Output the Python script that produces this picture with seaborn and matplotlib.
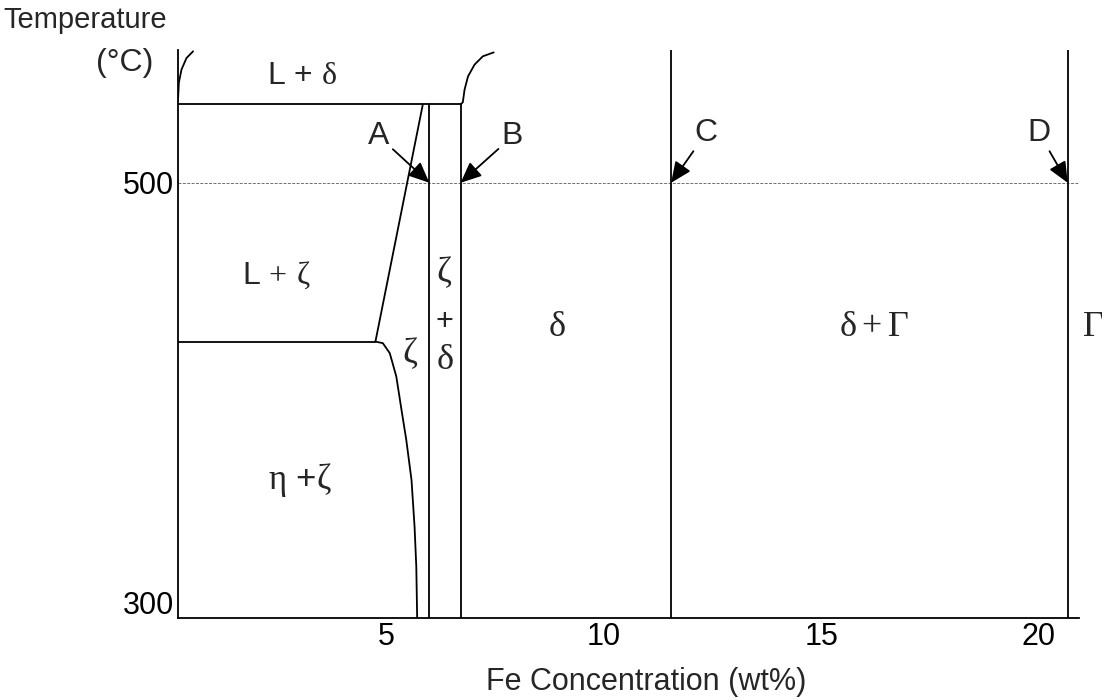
import numpy as np
import pandas as pd
import matplotlib
matplotlib.use("Agg")
import matplotlib.pyplot as plt
import seaborn as sns
from matplotlib.transforms import ScaledTranslation

# ---------------- data (Fe concentration wt%, temperature °C) ----------------
x_ticks = [5, 10, 15, 20]
x_tick_labels = ["5", "10", "15", "20"]
y_ticks = [300, 500]
y_tick_labels = ["300", "500"]

T_peritectic = 536
T_zeta_line = 427
T_ref = 500
T_top = 561

liq_left_x = [0.20, 0.22, 0.28, 0.395, 0.547]
liq_left_t = [538, 546, 552, 557.3, 560.4]

liq_right_x = [6.70, 6.75, 6.79, 6.87, 7.02, 7.21, 7.46]
liq_right_t = [536, 537, 542.8, 548.9, 554.3, 558.1, 559.9]

zeta_liq_x = [5.83, 4.74]
zeta_liq_t = [536, 427]

zeta_solvus_x = [4.74, 4.91, 5.07, 5.22, 5.34, 5.45, 5.57, 5.64, 5.68, 5.70]
zeta_solvus_t = [427.0, 426.3, 421.7, 411.0, 395.6, 381.8, 363.4, 342.0, 323.6, 300]

A_x, B_x, C_x, D_x = 5.98, 6.70, 11.54, 20.66
x_min, x_max = 0.20, 20.92

arrow_labels = ["A", "B", "C", "D"]
arrow_tips = [A_x, B_x, C_x, D_x]
arrow_text_x = [4.82, 7.89, 12.35, 20.00]
arrow_text_t = [521.3, 521.3, 522.9, 522.9]

# ---------------- build long-form table of boundary segments ----------------
segments = {
    "liq_left": (liq_left_x, liq_left_t),
    "liq_right": (liq_right_x, liq_right_t),
    "peritectic": ([x_min, B_x], [T_peritectic, T_peritectic]),
    "zeta_horiz": ([x_min, zeta_liq_x[-1]], [T_zeta_line, T_zeta_line]),
    "zeta_liq": (zeta_liq_x, zeta_liq_t),
    "zeta_solvus": (zeta_solvus_x, zeta_solvus_t),
    "A": ([A_x, A_x], [300, T_peritectic]),
    "B": ([B_x, B_x], [300, T_peritectic]),
    "C": ([C_x, C_x], [300, T_top]),
    "D": ([D_x, D_x], [300, T_top]),
}
rows = []
for name, (xs, ts) in segments.items():
    for i, (xv, tv) in enumerate(zip(xs, ts)):
        rows.append({"seg": name, "order": i, "x": xv, "T": tv})
df = pd.DataFrame(rows)
ref_df = pd.DataFrame({"x": [x_min, x_max], "T": [T_ref, T_ref]})

# ---------------- style ----------------
sns.set_style("white")
plt.rcParams["font.family"] = ["Liberation Sans", "DejaVu Sans"]
plt.rcParams["mathtext.fontset"] = "custom"
plt.rcParams["mathtext.rm"] = "Liberation Serif"
plt.rcParams["mathtext.it"] = "Liberation Serif"
plt.rcParams["mathtext.bf"] = "Liberation Serif:bold"

fig = plt.figure(figsize=(11.02, 7.0), dpi=100)
ax = fig.add_axes([178 / 1102, 1 - 618 / 700, (1079 - 178) / 1102, (618 - 50) / 700])

sns.lineplot(data=ref_df, x="x", y="T", ax=ax, color="#707070", lw=0.7,
             linestyle=(0, (3, 1.5)), estimator=None, sort=False)
sns.lineplot(data=df, x="x", y="T", units="seg", estimator=None, sort=False,
             color="black", lw=1.3, ax=ax)

ax.set_xlim(x_min, x_max)
ax.set_ylim(300, T_top)
ax.set_xticks(x_ticks)
ax.set_xticklabels(x_tick_labels)
ax.set_yticks(y_ticks)
ax.set_yticklabels(y_tick_labels)
ax.tick_params(axis="both", length=0, labelsize=22, colors="black")
ax.tick_params(axis="x", pad=3)
ax.tick_params(axis="y", pad=3)
ax.set_xlabel("")
ax.set_ylabel("")
for s in ["top", "right"]:
    ax.spines[s].set_visible(False)
for s in ["left", "bottom"]:
    ax.spines[s].set_color("black")
    ax.spines[s].set_linewidth(1.3)

# the "300" label sits a little above the bottom in the reference
lab300 = ax.get_yticklabels()[0]
lab300.set_transform(lab300.get_transform() + ScaledTranslation(0, 16 / 100, fig.dpi_scale_trans))

# ---------------- arrows ----------------
for lab, tip, tx, tt in zip(arrow_labels, arrow_tips, arrow_text_x, arrow_text_t):
    ax.annotate(lab, xy=(tip, T_ref), xytext=(tx, tt), ha="center", va="center",
                fontsize=23,
                arrowprops=dict(arrowstyle="-|>,head_length=0.9,head_width=0.4",
                                mutation_scale=14, color="black", lw=1.3,
                                shrinkA=0, shrinkB=0))

# ---------------- phase labels ----------------
ax.text(3.06, 549.2, r"L + $\delta$", ha="center", va="center", fontsize=23)
ax.text(2.45, 457.7, r"L$\,+\,\zeta$", ha="center", va="center", fontsize=23)
ax.text(3.00, 363.4, r"$\eta$ +$\zeta$", ha="center", va="center", fontsize=25)
ax.text(5.53, 421.7, r"$\zeta$", ha="center", va="center", fontsize=26)
ax.text(6.33, 459.1, r"$\zeta$", ha="center", va="center", fontsize=26)
ax.text(6.33, 436.2, r"+", ha="center", va="center", fontsize=22)
ax.text(6.33, 418.6, r"$\delta$", ha="center", va="center", fontsize=26)
ax.text(8.92, 433.9, r"$\delta$", ha="center", va="center", fontsize=26)
ax.text(16.20, 433.9, r"$\delta + \Gamma$", ha="center", va="center", fontsize=26)
ax.text(21.23, 433.9, r"$\Gamma$", ha="center", va="center", fontsize=26, clip_on=False)

# ---------------- axis titles ----------------
fig.text(3 / 1102, 1 - 28 / 700, "Temperature", ha="left", va="baseline", fontsize=21)
fig.text(153 / 1102, 1 - 71 / 700, "(°C)", ha="right", va="baseline", fontsize=23)
fig.text(646 / 1102, 1 - 690 / 700, "Fe Concentration (wt%)", ha="center",
         va="baseline", fontsize=22)

fig.savefig("out.png", dpi=100, facecolor="white")
